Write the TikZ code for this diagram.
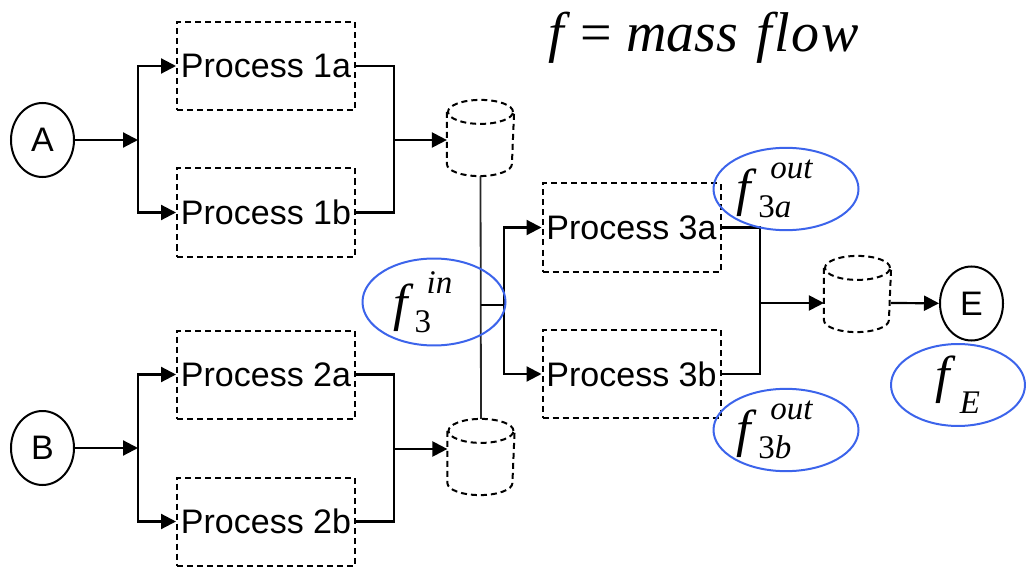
\documentclass[tikz,border=0pt]{standalone}
\usepackage{fontspec}
\usepackage{amsmath}
\setmainfont{Liberation Sans}
\newfontfamily\tms{Liberation Serif}
\usetikzlibrary{shapes.geometric,arrows.meta,calc}
\DeclareMathSizes{52}{52}{33}{25}
\definecolor{lblue}{RGB}{60,100,235}
\newcommand{\tankdraw}[1]{%
  \draw[tankline] ($(#1.north west)+(0,12)$) -- ($(#1.south west)+(0,-12)$)
    arc[start angle=180,end angle=360,x radius=32.5pt,y radius=12pt]
    -- ($(#1.north east)+(0,12)$);
  \draw[tankline] ($(#1.north)+(0,12)$) ellipse[x radius=32.5pt,y radius=12pt];}
\newcommand{\flab}[2]{$\text{\tms\itshape f}^{\kern19pt\text{\tms\itshape #1}}_{\kern7pt\text{\tms #2}}$\kern22pt}
\begin{document}
\begin{tikzpicture}[x=1pt,y=-1pt,line width=2.2pt,
  flow/.style={-{Triangle[length=15pt,width=15pt]}},
  proc/.style={draw,dash pattern=on 6pt off 4pt,line width=2pt,minimum width=178pt,
    minimum height=88pt,inner sep=0pt,font=\fontsize{34}{40}\selectfont},
  src/.style={draw,ellipse,line width=2pt,minimum width=63pt,minimum height=74pt,inner sep=0pt,
    font=\fontsize{34}{40}\selectfont},
  tankbox/.style={minimum width=65pt,minimum height=74pt,inner sep=0pt},
  tankline/.style={dash pattern=on 6pt off 4pt,line width=2pt},
  flbl/.style={draw=lblue,ellipse,line width=2pt,inner sep=0pt,
    font=\fontsize{52}{52}\selectfont},
  thin/.style={line width=1.8pt,draw=black!85}]
\useasboundingbox (0,0) rectangle (1026,567);

% title
\node[anchor=base,inner sep=0pt,font=\tms\fontsize{56}{56}\selectfont] (title) at (704,52)
  {\textit{f}\hspace{10pt}=\hspace{14pt}\textit{mass}\hspace{18pt}\textit{f\kern2pt l\kern2pt o\kern2pt w}};

% sources and sink
\node[src] (A) at (42.5,140) {A};
\node[src] (B) at (42.5,448) {B};
\node[src] (E) at (971.5,303.5) {E};

% process boxes
\node[proc] (p1a) at (266,66) {Process 1a};
\node[proc] (p1b) at (266,212.5) {Process 1b};
\node[proc] (p2a) at (266,374.5) {Process 2a};
\node[proc] (p2b) at (266,521.5) {Process 2b};
\node[proc] (p3a) at (631.5,227.5) {Process 3a};
\node[proc] (p3b) at (631.5,374) {Process 3b};

% tanks
\node[tankbox] (c1) at (480.5,138) {};
\node[tankbox] (c2) at (481,457) {};
\node[tankbox] (c3) at (857.5,294) {};
\tankdraw{c1}
\tankdraw{c2}
\tankdraw{c3}

% junction points
\coordinate (jA) at (138,140);
\coordinate (jB) at (138,448);
\coordinate (m1) at (394,140);
\coordinate (m2) at (394,449);
\coordinate (j3) at (504,305);
\coordinate (m3) at (760,303);

% A branch
\draw[flow] (A) -- (jA);
\draw[flow] (jA) |- (p1a.west);
\draw[flow] (jA) |- (p1b.west);
\draw (p1a.east) -| (m1);
\draw (p1b.east) -| (m1);
\draw[flow] (m1) -- (m1 -| c1.west);

% B branch
\draw[flow] (B) -- (jB);
\draw[flow] (jB) |- (p2a.west);
\draw[flow] (jB) |- (p2b.west);
\draw (p2a.east) -| (m2);
\draw (p2b.east) -| (m2);
\draw[flow] (m2) -- (m2 -| c2.west);

% tank link and process 3
\draw[thin] (c1.south) -- (c2.north);
\coordinate (v3) at (c1.south |- j3);
\draw (v3) -- (j3);
\draw[flow] (j3) |- (p3a.west);
\draw[flow] (j3) |- (p3b.west);
\draw (p3a.east) -| (m3);
\draw (p3b.east) -| (m3);
\draw[flow] (m3) -- (m3 -| c3.west);
\draw[flow] (m3 -| c3.east) -- (E);

% flow labels
\node[flbl,minimum width=143pt,minimum height=79pt] (f3in) at (434,302) {\flab{in}{3}};
\node[flbl,minimum width=145pt,minimum height=78pt] (f3a) at (786,189) {\flab{out}{3\itshape a}};
\node[flbl,minimum width=145pt,minimum height=79pt] (f3b) at (786,430) {\flab{out}{3\itshape b}};
\node[flbl,minimum width=134pt,minimum height=80pt] (fE) at (958,385)
  {$\text{\tms\itshape f}_{\kern10pt\text{\tms\itshape\raisebox{-9pt}{E}}}$};
\end{tikzpicture}
\end{document}
